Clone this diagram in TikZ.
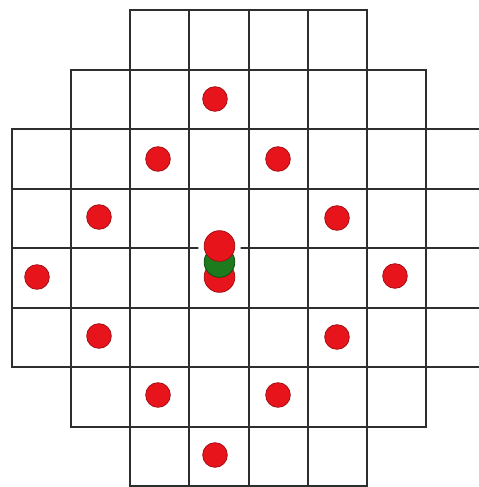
\documentclass[tikz,border=0pt]{standalone}
\usepackage{tikz}
\definecolor{cGrid}{HTML}{2E2E2E}
\definecolor{cDot}{HTML}{E8141C}
\definecolor{cDotRim}{HTML}{A30E14}
\definecolor{cMid}{HTML}{1D7A1D}
\definecolor{cMidRim}{HTML}{104A10}

\begin{document}
\begin{tikzpicture}[
  x=0.75pt, y=-0.75pt,
  cell/.style={draw=cGrid, line width=1.5pt},
  dot/.style={circle, fill=cDot, draw=cDotRim, line width=0.6pt, inner sep=0pt, minimum size=18.5pt},
  bigdot/.style={circle, fill=#1, draw=#1Rim, line width=0.6pt, inner sep=0pt, minimum size=23pt},
  halo/.style={circle, fill=white, inner sep=0pt, minimum size=32pt},
]
\useasboundingbox (0,0) rectangle (479,487);
\clip (0,0) rectangle (479,487);

% ---------- Grid ----------
\foreach \row/\cfirst/\clast in {0/2/5,1/1/6,2/0/7,3/0/7,4/0/7,5/0/7,6/1/6,7/2/5}
  \foreach \col in {\cfirst,...,\clast}
    \draw[cell] ({12+59.15*\col},{10+59.5*\row}) rectangle ++(59.15,59.5);

% ---------- Outer dots ----------
\foreach \name/\px/\py in {n/215/99, nw1/158/159, nw2/99/217, w/37/277,
                           sw2/99/336, sw1/158/395, s/215/455,
                           ne1/278/159, ne2/337/218, e/395/276,
                           se2/337/337, se1/278/395}
  \node[dot] (\name) at (\px,\py) {};

% ---------- Centre stack ----------
\node[halo] (gap) at (219.5,246) {};
\node[bigdot=cDot] (low) at (219.5,277) {};
\node[bigdot=cMid] (mid) at (219.5,262) {};
\node[bigdot=cDot] (top) at (219.5,246) {};

\end{tikzpicture}
\end{document}
